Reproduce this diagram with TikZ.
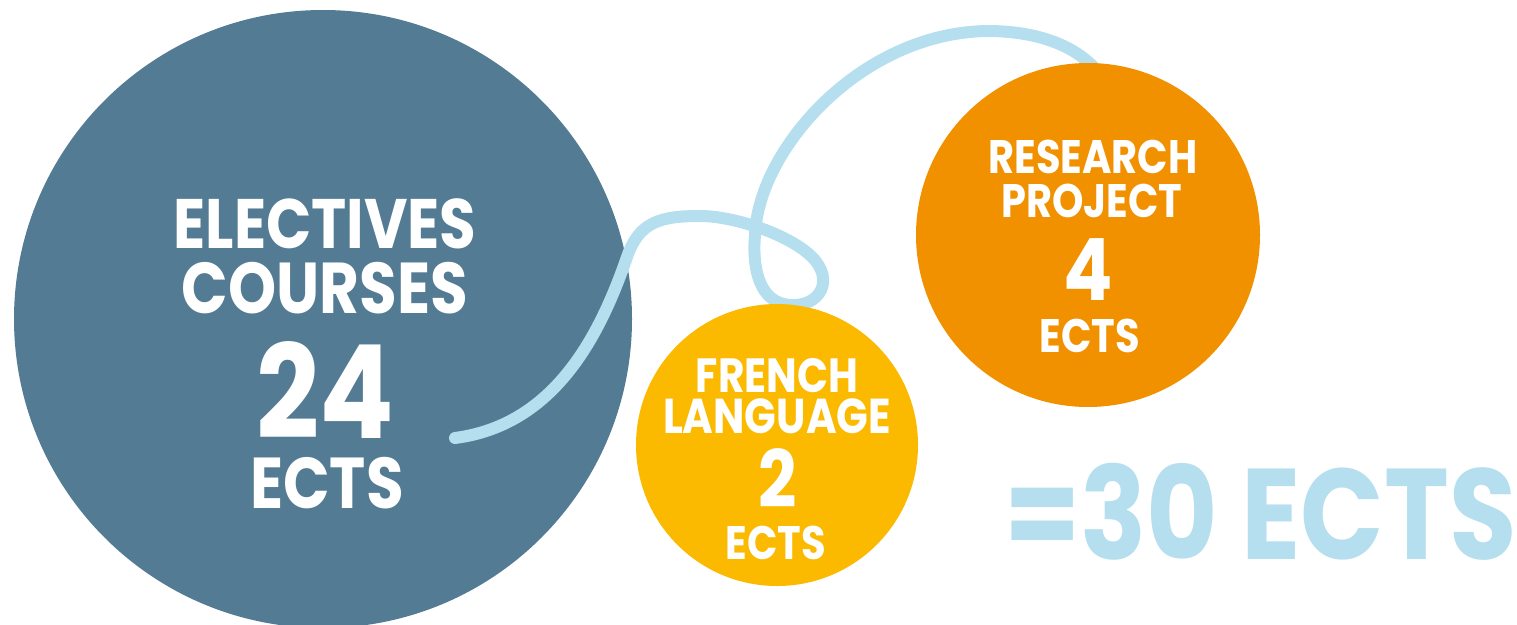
\documentclass[tikz,border=0pt]{standalone}
\usepackage{fontspec}
\setmainfont{Poppins}[FakeStretch=0.85]
\usepackage{tikz}

\definecolor{elecblue}{HTML}{537B93}
\definecolor{frenchyellow}{HTML}{FBB900}
\definecolor{researchorange}{HTML}{F29100}
\definecolor{threadblue}{HTML}{B5DFEE}

\newcommand{\fsz}[1]{\fontsize{#1}{#1}\selectfont\bfseries}

\begin{document}
\begin{tikzpicture}[x=1pt, y=-1pt]
    % --- DEFINE STYLES ---
    % Style for the coloured discs
    \tikzstyle{disc} = [circle, inner sep=0pt, draw=none]
    % Style for the white labels inside the discs
    \tikzstyle{lbl} = [text=white, inner sep=0pt, anchor=base, text height=0.7em, text depth=0pt]
    % Style for the thread running between the discs
    \tikzstyle{thread} = [threadblue, line width=12pt, line cap=round]

    \useasboundingbox (0,0) rectangle (1517,624);

    % Big disc
    \node[disc, fill=elecblue, minimum size=618pt] (elec) at (323,319) {};

    % Thread (drawn over the big disc, under the small ones)
    \draw[thread] (455,438) .. controls (555,425) and (600,335) .. (627,257)
        .. controls (639,222) and (660,216) .. (700,216)
        .. controls (735,216) and (790,235) .. (812,257)
        .. controls (835,280) and (820,307) .. (790,305)
        .. controls (760,303) and (752,270) .. (755,235)
        .. controls (758,150) and (860,33) .. (987,31)
        .. controls (1045,31) and (1080,50) .. (1098,72);

    % Small discs
    \node[disc, fill=frenchyellow, minimum size=282pt] (french) at (777,445) {};
    \node[disc, fill=researchorange, minimum size=344pt] (research) at (1088,235) {};

    % --- LABELS ---
    \node[lbl, font=\fsz{70}] (elec1) at (325,248) {ELECTIVES};
    \node[lbl, font=\fsz{72}] (elec2) at (325,313) {COURSES};
    \node[lbl, font=\fsz{130}] (elec3) at (325,438) {24};
    \node[lbl, font=\fsz{72}] (elec4) at (327,508) {ECTS};

    \node[lbl, font=\fsz{48}] (french1) at (777,392) {FRENCH};
    \node[lbl, font=\fsz{49}] (french2) at (777,433) {LANGUAGE};
    \node[lbl, font=\fsz{79}] (french3) at (778,507) {2};
    \node[lbl, font=\fsz{47}] (french4) at (776,559) {ECTS};

    \node[lbl, font=\fsz{47}] (research1) at (1093,173) {RESEARCH};
    \node[lbl, font=\fsz{47}] (research2) at (1092,217) {PROJECT};
    \node[lbl, font=\fsz{86}] (research3) at (1088,300) {4};
    \node[lbl, font=\fsz{47}] (research4) at (1090,352) {ECTS};

    % Total
    \node[lbl, anchor=base west, text=threadblue, font=\fsz{129}] (total) at (1004,559) {=30 ECTS};
\end{tikzpicture}
\end{document}
